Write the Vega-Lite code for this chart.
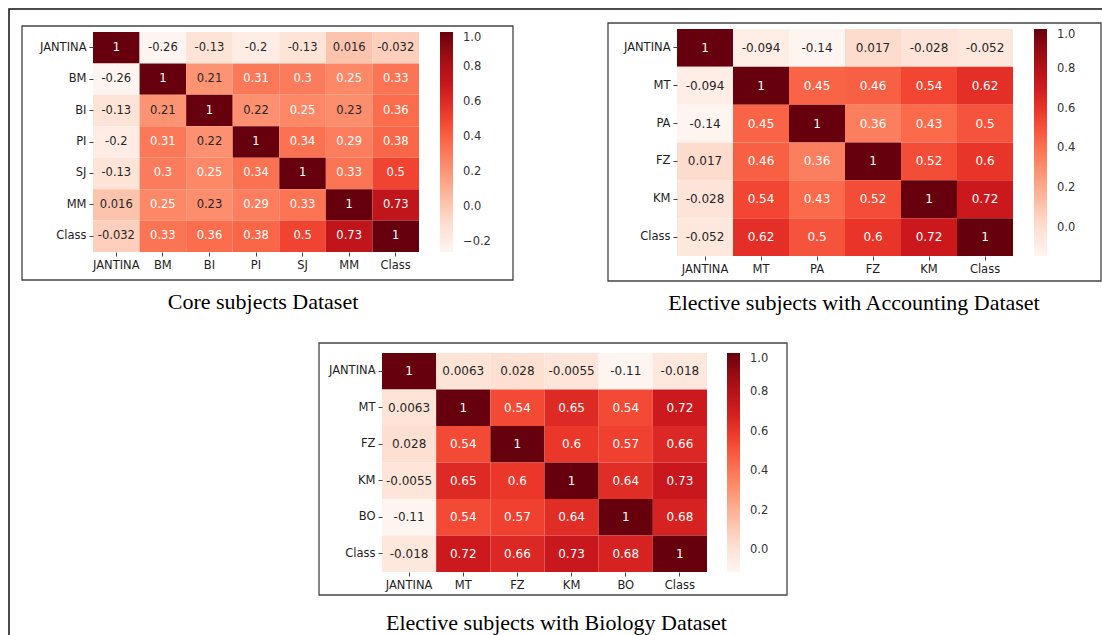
{
  "$schema": "https://vega.github.io/schema/vega-lite/v6.json",
  "width": 1093,
  "height": 626,
  "autosize": "none",
  "padding": {"left": 9, "top": 9, "right": 0, "bottom": 0},
  "background": "#ffffff",
  "config": {
    "view": {"stroke": null},
    "locale": {"number": {"decimal": ".", "thousands": ",", "grouping": [3], "currency": ["$", ""], "minus": "-"}},
    "axis": {"labelFont": "DejaVu Sans", "labelFontSize": 11.5, "labelColor": "#1e1e1e", "tickColor": "#444444", "tickSize": 4, "domain": false, "grid": false, "labelPadding": 3},
    "legend": {"labelFont": "DejaVu Sans", "labelFontSize": 11.5, "labelColor": "#333333"}
  },
  "datasets": {
    "core": [
      {"row": "JANTINA", "col": "JANTINA", "value": 1}, {"row": "JANTINA", "col": "BM", "value": -0.26}, {"row": "JANTINA", "col": "BI", "value": -0.13}, {"row": "JANTINA", "col": "PI", "value": -0.2}, {"row": "JANTINA", "col": "SJ", "value": -0.13}, {"row": "JANTINA", "col": "MM", "value": 0.016}, {"row": "JANTINA", "col": "Class", "value": -0.032},
      {"row": "BM", "col": "JANTINA", "value": -0.26}, {"row": "BM", "col": "BM", "value": 1}, {"row": "BM", "col": "BI", "value": 0.21}, {"row": "BM", "col": "PI", "value": 0.31}, {"row": "BM", "col": "SJ", "value": 0.3}, {"row": "BM", "col": "MM", "value": 0.25}, {"row": "BM", "col": "Class", "value": 0.33},
      {"row": "BI", "col": "JANTINA", "value": -0.13}, {"row": "BI", "col": "BM", "value": 0.21}, {"row": "BI", "col": "BI", "value": 1}, {"row": "BI", "col": "PI", "value": 0.22}, {"row": "BI", "col": "SJ", "value": 0.25}, {"row": "BI", "col": "MM", "value": 0.23}, {"row": "BI", "col": "Class", "value": 0.36},
      {"row": "PI", "col": "JANTINA", "value": -0.2}, {"row": "PI", "col": "BM", "value": 0.31}, {"row": "PI", "col": "BI", "value": 0.22}, {"row": "PI", "col": "PI", "value": 1}, {"row": "PI", "col": "SJ", "value": 0.34}, {"row": "PI", "col": "MM", "value": 0.29}, {"row": "PI", "col": "Class", "value": 0.38},
      {"row": "SJ", "col": "JANTINA", "value": -0.13}, {"row": "SJ", "col": "BM", "value": 0.3}, {"row": "SJ", "col": "BI", "value": 0.25}, {"row": "SJ", "col": "PI", "value": 0.34}, {"row": "SJ", "col": "SJ", "value": 1}, {"row": "SJ", "col": "MM", "value": 0.33}, {"row": "SJ", "col": "Class", "value": 0.5},
      {"row": "MM", "col": "JANTINA", "value": 0.016}, {"row": "MM", "col": "BM", "value": 0.25}, {"row": "MM", "col": "BI", "value": 0.23}, {"row": "MM", "col": "PI", "value": 0.29}, {"row": "MM", "col": "SJ", "value": 0.33}, {"row": "MM", "col": "MM", "value": 1}, {"row": "MM", "col": "Class", "value": 0.73},
      {"row": "Class", "col": "JANTINA", "value": -0.032}, {"row": "Class", "col": "BM", "value": 0.33}, {"row": "Class", "col": "BI", "value": 0.36}, {"row": "Class", "col": "PI", "value": 0.38}, {"row": "Class", "col": "SJ", "value": 0.5}, {"row": "Class", "col": "MM", "value": 0.73}, {"row": "Class", "col": "Class", "value": 1}
    ],
    "acc": [
      {"row": "JANTINA", "col": "JANTINA", "value": 1}, {"row": "JANTINA", "col": "MT", "value": -0.094}, {"row": "JANTINA", "col": "PA", "value": -0.14}, {"row": "JANTINA", "col": "FZ", "value": 0.017}, {"row": "JANTINA", "col": "KM", "value": -0.028}, {"row": "JANTINA", "col": "Class", "value": -0.052},
      {"row": "MT", "col": "JANTINA", "value": -0.094}, {"row": "MT", "col": "MT", "value": 1}, {"row": "MT", "col": "PA", "value": 0.45}, {"row": "MT", "col": "FZ", "value": 0.46}, {"row": "MT", "col": "KM", "value": 0.54}, {"row": "MT", "col": "Class", "value": 0.62},
      {"row": "PA", "col": "JANTINA", "value": -0.14}, {"row": "PA", "col": "MT", "value": 0.45}, {"row": "PA", "col": "PA", "value": 1}, {"row": "PA", "col": "FZ", "value": 0.36}, {"row": "PA", "col": "KM", "value": 0.43}, {"row": "PA", "col": "Class", "value": 0.5},
      {"row": "FZ", "col": "JANTINA", "value": 0.017}, {"row": "FZ", "col": "MT", "value": 0.46}, {"row": "FZ", "col": "PA", "value": 0.36}, {"row": "FZ", "col": "FZ", "value": 1}, {"row": "FZ", "col": "KM", "value": 0.52}, {"row": "FZ", "col": "Class", "value": 0.6},
      {"row": "KM", "col": "JANTINA", "value": -0.028}, {"row": "KM", "col": "MT", "value": 0.54}, {"row": "KM", "col": "PA", "value": 0.43}, {"row": "KM", "col": "FZ", "value": 0.52}, {"row": "KM", "col": "KM", "value": 1}, {"row": "KM", "col": "Class", "value": 0.72},
      {"row": "Class", "col": "JANTINA", "value": -0.052}, {"row": "Class", "col": "MT", "value": 0.62}, {"row": "Class", "col": "PA", "value": 0.5}, {"row": "Class", "col": "FZ", "value": 0.6}, {"row": "Class", "col": "KM", "value": 0.72}, {"row": "Class", "col": "Class", "value": 1}
    ],
    "bio": [
      {"row": "JANTINA", "col": "JANTINA", "value": 1}, {"row": "JANTINA", "col": "MT", "value": 0.0063}, {"row": "JANTINA", "col": "FZ", "value": 0.028}, {"row": "JANTINA", "col": "KM", "value": -0.0055}, {"row": "JANTINA", "col": "BO", "value": -0.11}, {"row": "JANTINA", "col": "Class", "value": -0.018},
      {"row": "MT", "col": "JANTINA", "value": 0.0063}, {"row": "MT", "col": "MT", "value": 1}, {"row": "MT", "col": "FZ", "value": 0.54}, {"row": "MT", "col": "KM", "value": 0.65}, {"row": "MT", "col": "BO", "value": 0.54}, {"row": "MT", "col": "Class", "value": 0.72},
      {"row": "FZ", "col": "JANTINA", "value": 0.028}, {"row": "FZ", "col": "MT", "value": 0.54}, {"row": "FZ", "col": "FZ", "value": 1}, {"row": "FZ", "col": "KM", "value": 0.6}, {"row": "FZ", "col": "BO", "value": 0.57}, {"row": "FZ", "col": "Class", "value": 0.66},
      {"row": "KM", "col": "JANTINA", "value": -0.0055}, {"row": "KM", "col": "MT", "value": 0.65}, {"row": "KM", "col": "FZ", "value": 0.6}, {"row": "KM", "col": "KM", "value": 1}, {"row": "KM", "col": "BO", "value": 0.64}, {"row": "KM", "col": "Class", "value": 0.73},
      {"row": "BO", "col": "JANTINA", "value": -0.11}, {"row": "BO", "col": "MT", "value": 0.54}, {"row": "BO", "col": "FZ", "value": 0.57}, {"row": "BO", "col": "KM", "value": 0.64}, {"row": "BO", "col": "BO", "value": 1}, {"row": "BO", "col": "Class", "value": 0.68},
      {"row": "Class", "col": "JANTINA", "value": -0.018}, {"row": "Class", "col": "MT", "value": 0.72}, {"row": "Class", "col": "FZ", "value": 0.66}, {"row": "Class", "col": "KM", "value": 0.73}, {"row": "Class", "col": "BO", "value": 0.68}, {"row": "Class", "col": "Class", "value": 1}
    ],
    "frames": [
      {"panel": "Core subjects Dataset"},
      {"panel": "Elective subjects with Accounting Dataset"},
      {"panel": "Elective subjects with Biology Dataset"},
      {"panel": "outer"}
    ]
  },
  "layer": [
    {
      "data": {"name": "frames"},
      "transform": [{"filter": "datum.panel === 'outer'"}],
      "mark": {"type": "rect", "fill": "transparent", "stroke": "#111111", "strokeWidth": 1.5},
      "encoding": {
        "x": {"datum": 0, "type": "quantitative", "scale": {"domain": [0, 1], "range": [0, 1120], "nice": false, "zero": false}, "axis": null},
        "x2": {"datum": 1},
        "y": {"datum": 0, "type": "quantitative", "scale": {"domain": [0, 1], "range": [0, 660], "nice": false, "zero": false}, "axis": null},
        "y2": {"datum": 1}
      }
    },
    {
      "data": {"name": "core"},
      "encoding": {
        "x": {"field": "col", "type": "nominal", "sort": ["JANTINA", "BM", "BI", "PI", "SJ", "MM", "Class"], "scale": {"range": [84, 410], "paddingInner": 0, "paddingOuter": 0}, "axis": {"orient": "bottom", "offset": -383, "title": null, "labelAngle": 0}},
        "y": {"field": "row", "type": "nominal", "sort": ["JANTINA", "BM", "BI", "PI", "SJ", "MM", "Class"], "scale": {"range": [23, 243], "paddingInner": 0, "paddingOuter": 0}, "axis": {"orient": "left", "offset": -84, "title": null}}
      },
      "layer": [
        {"mark": {"type": "rect"}, "encoding": {"color": {"field": "value", "type": "quantitative", "scale": {"type": "linear", "domain": [-0.26, -0.1025, 0.055, 0.2125, 0.37, 0.5275, 0.685, 0.8425, 1], "range": ["#fff5f0", "#fee0d2", "#fcbba1", "#fc9272", "#fb6a4a", "#ef3b2c", "#cb181d", "#a50f15", "#67000d"], "interpolate": "rgb", "zero": false, "nice": false}, "legend": {"orient": "none", "legendX": 431, "legendY": 23, "direction": "vertical", "gradientLength": 220, "gradientThickness": 13, "title": null, "values": [-0.2, 0, 0.2, 0.4, 0.6, 0.8, 1], "labelExpr": "replace(format(datum.value, '.1f'), '-', '−')", "labelOffset": 10, "labelBaseline": "middle", "gradientStrokeWidth": 0, "padding": 0}}}},
        {"mark": {"type": "text", "font": "DejaVu Sans", "fontSize": 11.5}, "encoding": {"text": {"field": "value", "type": "quantitative", "format": ".2~g"}, "color": {"condition": {"test": "datum.value > 0.24", "value": "#ffffff"}, "value": "#262626"}}}
      ]
    },
    {
      "data": {"name": "acc"},
      "encoding": {
        "x": {"field": "col", "type": "nominal", "sort": ["JANTINA", "MT", "PA", "FZ", "KM", "Class"], "scale": {"range": [668, 1004], "paddingInner": 0, "paddingOuter": 0}, "axis": {"orient": "bottom", "offset": -379, "title": null, "labelAngle": 0}},
        "y": {"field": "row", "type": "nominal", "sort": ["JANTINA", "MT", "PA", "FZ", "KM", "Class"], "scale": {"range": [20, 247], "paddingInner": 0, "paddingOuter": 0}, "axis": {"orient": "left", "offset": -668, "title": null}}
      },
      "layer": [
        {"mark": {"type": "rect"}, "encoding": {"color": {"field": "value", "type": "quantitative", "scale": {"type": "linear", "domain": [-0.14, 0.0025, 0.145, 0.2875, 0.43, 0.5725, 0.715, 0.8575, 1], "range": ["#fff5f0", "#fee0d2", "#fcbba1", "#fc9272", "#fb6a4a", "#ef3b2c", "#cb181d", "#a50f15", "#67000d"], "interpolate": "rgb", "zero": false, "nice": false}, "legend": {"orient": "none", "legendX": 1025, "legendY": 20, "direction": "vertical", "gradientLength": 227, "gradientThickness": 13, "title": null, "values": [0, 0.2, 0.4, 0.6, 0.8, 1], "labelExpr": "replace(format(datum.value, '.1f'), '-', '−')", "labelOffset": 10, "labelBaseline": "middle", "gradientStrokeWidth": 0, "padding": 0}}}},
        {"mark": {"type": "text", "font": "DejaVu Sans", "fontSize": 12}, "encoding": {"text": {"field": "value", "type": "quantitative", "format": ".2~g"}, "color": {"condition": {"test": "datum.value > 0.24", "value": "#ffffff"}, "value": "#262626"}}}
      ]
    },
    {
      "data": {"name": "bio"},
      "encoding": {
        "x": {"field": "col", "type": "nominal", "sort": ["JANTINA", "MT", "FZ", "KM", "BO", "Class"], "scale": {"range": [373, 698], "paddingInner": 0, "paddingOuter": 0}, "axis": {"orient": "bottom", "offset": -63, "title": null, "labelAngle": 0}},
        "y": {"field": "row", "type": "nominal", "sort": ["JANTINA", "MT", "FZ", "KM", "BO", "Class"], "scale": {"range": [344, 563], "paddingInner": 0, "paddingOuter": 0}, "axis": {"orient": "left", "offset": -373, "title": null}}
      },
      "layer": [
        {"mark": {"type": "rect"}, "encoding": {"color": {"field": "value", "type": "quantitative", "scale": {"type": "linear", "domain": [-0.11, 0.02875, 0.1675, 0.30625, 0.445, 0.58375, 0.7225, 0.86125, 1], "range": ["#fff5f0", "#fee0d2", "#fcbba1", "#fc9272", "#fb6a4a", "#ef3b2c", "#cb181d", "#a50f15", "#67000d"], "interpolate": "rgb", "zero": false, "nice": false}, "legend": {"orient": "none", "legendX": 718, "legendY": 344, "direction": "vertical", "gradientLength": 219, "gradientThickness": 13, "title": null, "values": [0, 0.2, 0.4, 0.6, 0.8, 1], "labelExpr": "replace(format(datum.value, '.1f'), '-', '−')", "labelOffset": 10, "labelBaseline": "middle", "gradientStrokeWidth": 0, "padding": 0}}}},
        {"mark": {"type": "text", "font": "DejaVu Sans", "fontSize": 12}, "encoding": {"text": {"field": "value", "type": "quantitative", "format": ".2~g"}, "color": {"condition": {"test": "datum.value > 0.24", "value": "#ffffff"}, "value": "#262626"}}}
      ]
    },
    {
      "data": {"name": "frames"},
      "transform": [{"filter": "datum.panel === 'Core subjects Dataset'"}],
      "mark": {"type": "rect", "fill": "transparent", "stroke": "#444444", "strokeWidth": 1.3},
      "encoding": {
        "x": {"datum": 0, "type": "quantitative", "scale": {"domain": [0, 1], "range": [13, 504], "nice": false, "zero": false}, "axis": {"orient": "bottom", "offset": -355, "domain": false, "ticks": false, "labels": false, "grid": false, "title": "Core subjects Dataset", "titleFont": "Liberation Serif", "titleFontSize": 22, "titleFontWeight": "normal", "titleColor": "#000000", "titlePadding": 11, "titleX": 253.5}},
        "x2": {"datum": 1},
        "y": {"datum": 0, "type": "quantitative", "scale": {"domain": [0, 1], "range": [17, 271], "nice": false, "zero": false}, "axis": null},
        "y2": {"datum": 1}
      }
    },
    {
      "data": {"name": "frames"},
      "transform": [{"filter": "datum.panel === 'Elective subjects with Accounting Dataset'"}],
      "mark": {"type": "rect", "fill": "transparent", "stroke": "#444444", "strokeWidth": 1.3},
      "encoding": {
        "x": {"datum": 0, "type": "quantitative", "scale": {"domain": [0, 1], "range": [599, 1092], "nice": false, "zero": false}, "axis": {"orient": "bottom", "offset": -354, "domain": false, "ticks": false, "labels": false, "grid": false, "title": "Elective subjects with Accounting Dataset", "titleFont": "Liberation Serif", "titleFontSize": 22, "titleFontWeight": "normal", "titleColor": "#000000", "titlePadding": 11, "titleX": 844.5}},
        "x2": {"datum": 1},
        "y": {"datum": 0, "type": "quantitative", "scale": {"domain": [0, 1], "range": [14, 272], "nice": false, "zero": false}, "axis": null},
        "y2": {"datum": 1}
      }
    },
    {
      "data": {"name": "frames"},
      "transform": [{"filter": "datum.panel === 'Elective subjects with Biology Dataset'"}],
      "mark": {"type": "rect", "fill": "transparent", "stroke": "#444444", "strokeWidth": 1.3},
      "encoding": {
        "x": {"datum": 0, "type": "quantitative", "scale": {"domain": [0, 1], "range": [310, 778], "nice": false, "zero": false}, "axis": {"orient": "bottom", "offset": -40, "domain": false, "ticks": false, "labels": false, "grid": false, "title": "Elective subjects with Biology Dataset", "titleFont": "Liberation Serif", "titleFontSize": 22, "titleFontWeight": "normal", "titleColor": "#000000", "titlePadding": 17, "titleX": 547}},
        "x2": {"datum": 1},
        "y": {"datum": 0, "type": "quantitative", "scale": {"domain": [0, 1], "range": [334, 586], "nice": false, "zero": false}, "axis": null},
        "y2": {"datum": 1}
      }
    }
  ],
  "resolve": {"scale": {"x": "independent", "y": "independent", "color": "independent"}}
}
